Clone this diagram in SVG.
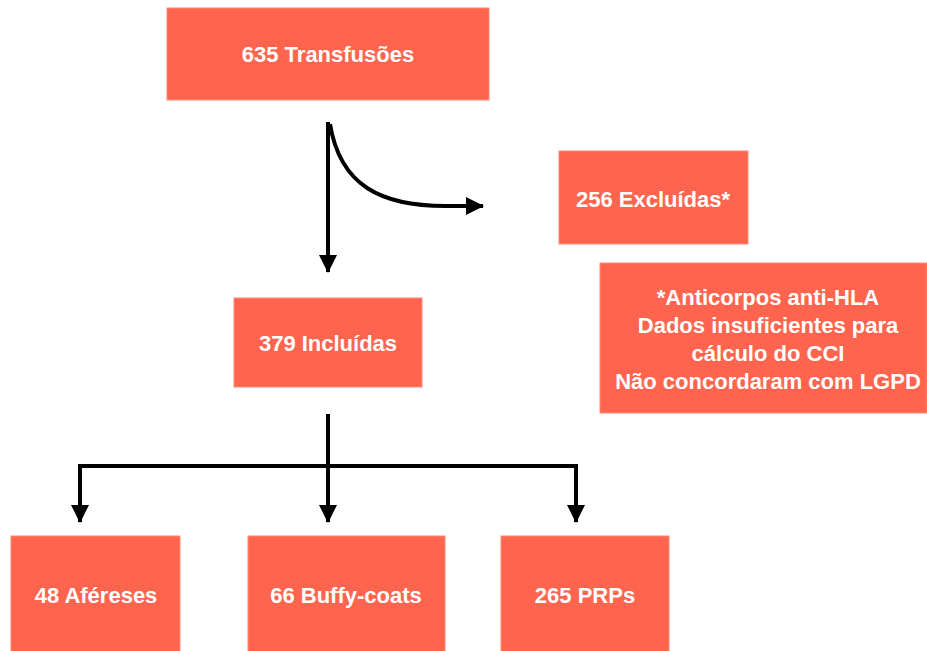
<svg xmlns="http://www.w3.org/2000/svg" width="927" height="651" viewBox="0 0 927 651">
  <style>
    .box { fill: #FF654E; stroke: #FF8A78; stroke-width: 1; }
    .lbl { font-family: "Liberation Sans", Arial, Helvetica, sans-serif; font-weight: bold; font-size: 22px; fill: #ffffff; text-anchor: middle; }
    .conn { fill: none; stroke: #000000; stroke-width: 4; }
  </style>
  <defs>
    <marker id="arrow" markerUnits="userSpaceOnUse" markerWidth="18" markerHeight="18" refX="17" refY="9" orient="auto">
      <path d="M0,0 L18,9 L0,18 Z" fill="#000000"/>
    </marker>
  </defs>
  <rect width="927" height="651" fill="#ffffff"/>

  <g id="connectors">
    <path class="conn" d="M328,122 L328,272" marker-end="url(#arrow)"/>
    <path class="conn" d="M330,124 C340,185 380,207 450,206 L483,206" marker-end="url(#arrow)"/>
    <path class="conn" d="M328,414 L328,522" marker-end="url(#arrow)"/>
    <path class="conn" d="M80,522 L80,466 L576,466 L576,522" marker-end="url(#arrow)"/>
    <path class="conn" d="M80,470 L80,522" marker-end="url(#arrow)"/>
  </g>

  <g id="n-transfusoes">
    <rect class="box" x="167" y="8" width="322" height="92"/>
    <text class="lbl" x="328" y="62">635 Transfusões</text>
  </g>
  <g id="n-excluidas">
    <rect class="box" x="559" y="151" width="189" height="93"/>
    <text class="lbl" x="653" y="207">256 Excluídas*</text>
  </g>
  <g id="n-nota">
    <rect class="box" x="600" y="263" width="327" height="150"/>
    <text class="lbl" x="768" y="305">*Anticorpos anti-HLA</text>
    <text class="lbl" x="768" y="333">Dados insuficientes para</text>
    <text class="lbl" x="768" y="361">cálculo do CCI</text>
    <text class="lbl" x="768" y="389">Não concordaram com LGPD</text>
  </g>
  <g id="n-incluidas">
    <rect class="box" x="234" y="298" width="188" height="89"/>
    <text class="lbl" x="328" y="351">379 Incluídas</text>
  </g>
  <g id="n-afereses">
    <rect class="box" x="11" y="536" width="169" height="120"/>
    <text class="lbl" x="96" y="603">48 Aféreses</text>
  </g>
  <g id="n-buffy">
    <rect class="box" x="248" y="536" width="197" height="120"/>
    <text class="lbl" x="346" y="603">66 Buffy-coats</text>
  </g>
  <g id="n-prp">
    <rect class="box" x="501" y="536" width="168" height="120"/>
    <text class="lbl" x="585" y="603">265 PRPs</text>
  </g>
</svg>
